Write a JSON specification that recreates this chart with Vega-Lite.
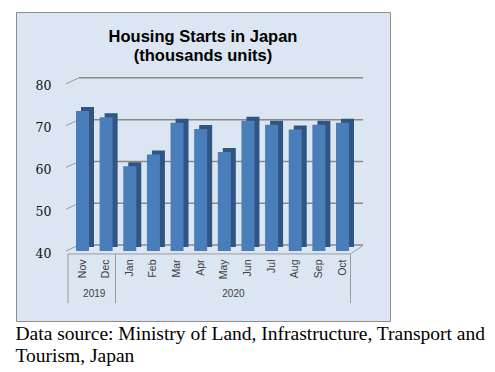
{
  "$schema": "https://vega.github.io/schema/vega-lite/v6.json",
  "background": "white",
  "padding": {"left": 15, "top": 11, "right": 5, "bottom": 5},
  "datasets": {
    "months": [
      {"month": "Nov", "value": 73.5},
      {"month": "Dec", "value": 72.0},
      {"month": "Jan", "value": 60.3},
      {"month": "Feb", "value": 63.1},
      {"month": "Mar", "value": 70.7},
      {"month": "Apr", "value": 69.2},
      {"month": "May", "value": 63.7},
      {"month": "Jun", "value": 71.2},
      {"month": "Jul", "value": 70.2},
      {"month": "Aug", "value": 69.1},
      {"month": "Sep", "value": 70.2},
      {"month": "Oct", "value": 70.7}
    ],
    "grid": [{"v": 40}, {"v": 50}, {"v": 60}, {"v": 70}, {"v": 80}],
    "one": [{"k": 1}]
  },
  "title": {
    "text": ["Data source: Ministry of Land, Infrastructure, Transport and", "Tourism, Japan"],
    "orient": "bottom",
    "anchor": "start",
    "font": "Liberation Serif",
    "fontSize": 19.5,
    "fontWeight": "normal",
    "color": "black",
    "lineHeight": 22,
    "offset": 3
  },
  "config": {
    "view": {"fill": "#dce6f2", "stroke": "#8c8c8c", "strokeWidth": 1},
    "concat": {"spacing": 0}
  },
  "vconcat": [
    {
      "width": 374,
      "height": 309,
      "title": {
        "text": ["Housing Starts in Japan", "(thousands units)"],
        "anchor": "middle",
        "font": "Liberation Sans",
        "fontSize": 16.5,
        "fontWeight": "bold",
        "color": "black",
        "lineHeight": 19,
        "offset": -52
      },
      "layer": [
        {
          "data": {"name": "grid"},
          "mark": {"type": "rule", "color": "#8a8a8a", "strokeWidth": 1.5, "yOffset": -6},
          "encoding": {
            "x": {
              "datum": "Nov",
              "type": "nominal",
              "bandPosition": 0.23,
              "scale": {
                "type": "band",
                "domain": ["Nov", "Dec", "Jan", "Feb", "Mar", "Apr", "May", "Jun", "Jul", "Aug", "Sep", "Oct"],
                "range": [60, 333],
                "paddingInner": 0.45,
                "paddingOuter": 0
              },
              "axis": {
                "title": null,
                "orient": "bottom",
                "offset": -68,
                "domain": false,
                "ticks": false,
                "grid": false,
                "labelAngle": -90,
                "labelAlign": "right",
                "labelBaseline": "middle",
                "labelPadding": 6,
                "labelFont": "Liberation Sans",
                "labelFontSize": 10.5,
                "labelFontWeight": "normal",
                "labelColor": "#404040"
              }
            },
            "x2": {"datum": "Oct", "bandPosition": 2.08},
            "y": {
              "field": "v",
              "type": "quantitative",
              "scale": {"domain": [23.25, 97.2], "nice": false, "zero": false},
              "axis": {
                "title": null,
                "orient": "left",
                "values": [40, 50, 60, 70, 80],
                "offset": -40,
                "domain": false,
                "ticks": false,
                "grid": false,
                "labelPadding": 5,
                "labelOffset": 2,
                "labelFont": "DejaVu Serif",
                "labelFontSize": 12.5,
                "labelColor": "#111111"
              }
            }
          }
        },
        {
          "data": {"name": "grid"},
          "mark": {"type": "rule", "color": "#9a9a9a", "strokeWidth": 1, "y2Offset": -6},
          "encoding": {
            "x": {"datum": "Nov", "type": "nominal", "bandPosition": -0.77, "scale": {"type": "band"}},
            "x2": {"datum": "Nov", "bandPosition": 0.23},
            "y": {"field": "v", "type": "quantitative"},
            "y2": {"field": "v"}
          }
        },
        {
          "data": {"name": "one"},
          "mark": {"type": "rule", "color": "#a0a0a0", "strokeWidth": 1},
          "encoding": {
            "x": {"datum": "Oct", "type": "nominal", "bandPosition": 1.1, "scale": {"type": "band"}},
            "x2": {"datum": "Oct", "bandPosition": 2.08},
            "y": {"datum": 39.3},
            "y2": {"datum": 41.3}
          }
        },
        {
          "data": {"name": "months"},
          "mark": {"type": "bar", "color": "#2f5683", "xOffset": 5, "yOffset": -4, "y2Offset": -4},
          "encoding": {
            "x": {"field": "month", "type": "nominal", "sort": null, "scale": {"type": "band"}},
            "y": {"field": "value", "type": "quantitative"},
            "y2": {"datum": 40}
          }
        },
        {
          "data": {"name": "months"},
          "mark": {"type": "bar", "color": "#4a7ebb"},
          "encoding": {
            "x": {"field": "month", "type": "nominal", "sort": null, "scale": {"type": "band"}},
            "y": {"field": "value", "type": "quantitative"},
            "y2": {"datum": 40}
          }
        },
        {
          "data": {"name": "one"},
          "mark": {"type": "rule", "color": "#9a9a9a", "strokeWidth": 1},
          "encoding": {
            "x": {"datum": "Nov", "type": "nominal", "bandPosition": -0.615, "scale": {"type": "band"}},
            "x2": {"datum": "Oct", "bandPosition": 1.115},
            "y": {"datum": 39.3}
          }
        },
        {
          "data": {"name": "one"},
          "mark": {"type": "rule", "color": "#9a9a9a", "strokeWidth": 1},
          "encoding": {
            "x": {"datum": "Nov", "type": "nominal", "bandPosition": -0.615, "scale": {"type": "band"}},
            "y": {"datum": 39.3},
            "y2": {"datum": 27.55}
          }
        },
        {
          "data": {"name": "one"},
          "mark": {"type": "rule", "color": "#9a9a9a", "strokeWidth": 1},
          "encoding": {
            "x": {"datum": "Dec", "type": "nominal", "bandPosition": 1.22, "scale": {"type": "band"}},
            "y": {"datum": 39.3},
            "y2": {"datum": 27.55}
          }
        },
        {
          "data": {"name": "one"},
          "mark": {"type": "rule", "color": "#9a9a9a", "strokeWidth": 1},
          "encoding": {
            "x": {"datum": "Oct", "type": "nominal", "bandPosition": 1.115, "scale": {"type": "band"}},
            "y": {"datum": 39.3},
            "y2": {"datum": 27.55}
          }
        },
        {
          "data": {"name": "one"},
          "mark": {"type": "text", "font": "Liberation Sans", "fontSize": 10, "color": "#404040", "baseline": "middle", "align": "center"},
          "encoding": {
            "x": {"datum": "Nov", "type": "nominal", "bandPosition": 1.4, "scale": {"type": "band"}},
            "y": {"datum": 29.6},
            "text": {"value": "2019"}
          }
        },
        {
          "data": {"name": "one"},
          "mark": {"type": "text", "font": "Liberation Sans", "fontSize": 10, "color": "#404040", "baseline": "middle", "align": "center"},
          "encoding": {
            "x": {"datum": "May", "type": "nominal", "bandPosition": 1.2, "scale": {"type": "band"}},
            "y": {"datum": 29.6},
            "text": {"value": "2020"}
          }
        }
      ]
    }
  ]
}
